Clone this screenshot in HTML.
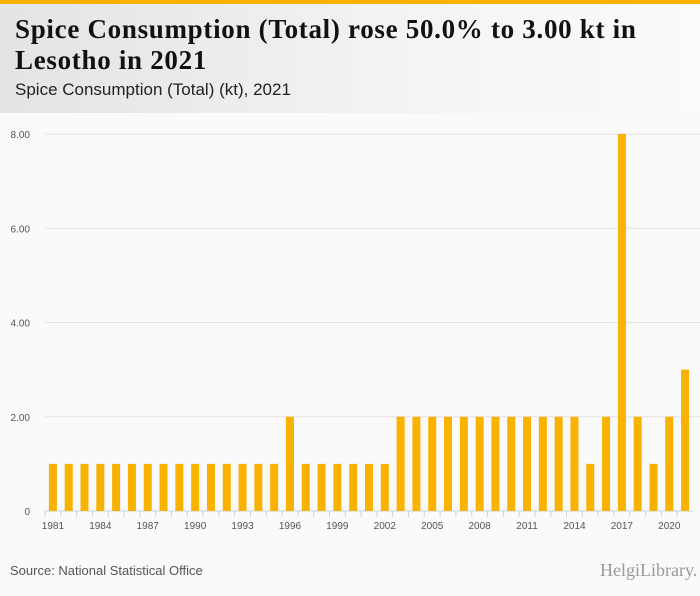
<!DOCTYPE html>
<html><head><meta charset="utf-8"><style>
body{margin:0;width:700px;height:596px;background:#fafafa;font-family:"Liberation Sans",sans-serif;overflow:hidden;position:relative}
#top{position:absolute;left:0;top:0;width:700px;height:4px;background:#f9b200}
#head{position:absolute;left:0;top:4px;width:700px;height:109px;background:linear-gradient(90deg,#e4e4e4,#f4f4f4 60%,#fbfbfb)}
h1{position:absolute;left:15px;top:14px;width:690px;margin:0;font:bold 27px/31px "Liberation Serif",serif;color:#111;letter-spacing:0.7px}
#sub{position:absolute;left:15px;top:80px;font-size:17px;color:#222}
#src{position:absolute;left:10px;top:563px;font-size:13px;color:#555}
#logo{position:absolute;left:600px;top:560px;font:18px "Liberation Serif",serif;color:#999}
svg{position:absolute;left:0;top:0}
</style></head><body>
<div id="top"></div>
<div id="head"></div>
<h1>Spice Consumption (Total) rose 50.0% to 3.00 kt in<br>Lesotho in 2021</h1>
<div id="sub">Spice Consumption (Total) (kt), 2021</div>
<svg id="chart" width="700" height="596"></svg>
<div id="src">Source: National Statistical Office</div>
<div id="logo">HelgiLibrary.</div>
<script>
const years=[1981,1982,1983,1984,1985,1986,1987,1988,1989,1990,1991,1992,1993,1994,1995,1996,1997,1998,1999,2000,2001,2002,2003,2004,2005,2006,2007,2008,2009,2010,2011,2012,2013,2014,2015,2016,2017,2018,2019,2020,2021];
const values=[1,1,1,1,1,1,1,1,1,1,1,1,1,1,1,2,1,1,1,1,1,1,2,2,2,2,2,2,2,2,2,2,2,2,1,2,8,2,1,2,3];
const yTicks=[0,2,4,6,8];
const yTickLabels=["0","2.00","4.00","6.00","8.00"];
const svg=document.getElementById('chart');const NS='http://www.w3.org/2000/svg';
const x0=45,x1=693,y0=511,y1=134,yMax=8;
const band=(x1-x0)/years.length;
const xS=i=>x0+band*(i+0.5);
const yS=v=>y0-(v/yMax)*(y0-y1);
function mk(t,a){const e=document.createElementNS(NS,t);for(const k in a)e.setAttribute(k,a[k]);svg.appendChild(e);return e;}
yTicks.forEach((v,i)=>{
 if(v>0){const g=mk('line',{x1:x0,x2:700,y1:yS(v),y2:yS(v),stroke:'#e2e2e2','stroke-width':1});
 
 }
 const t=mk('text',{x:30,y:yS(v)+4,'text-anchor':'end','font-size':10,fill:'#555','font-family':'Liberation Sans'});
 t.textContent=yTickLabels[i];
 
 
});
const ax=mk('line',{x1:x0,x2:x1,y1:y0,y2:y0,stroke:'#c8d4e6','stroke-width':1});


years.forEach((y,i)=>{
 const tk=mk('line',{x1:x0+band*i,x2:x0+band*i,y1:y0,y2:y0+6,stroke:'#c8d4e6'});
 
 
 const b=mk('rect',{x:xS(i)-4,y:yS(values[i]),width:8,height:y0-yS(values[i]),fill:'#f9b200'});
 
 
 if(i%3===0){const t=mk('text',{x:xS(i),y:529,'text-anchor':'middle','font-size':10,fill:'#555','font-family':'Liberation Sans'});
 t.textContent=y;
 
 }
});
</script>
</body></html>
